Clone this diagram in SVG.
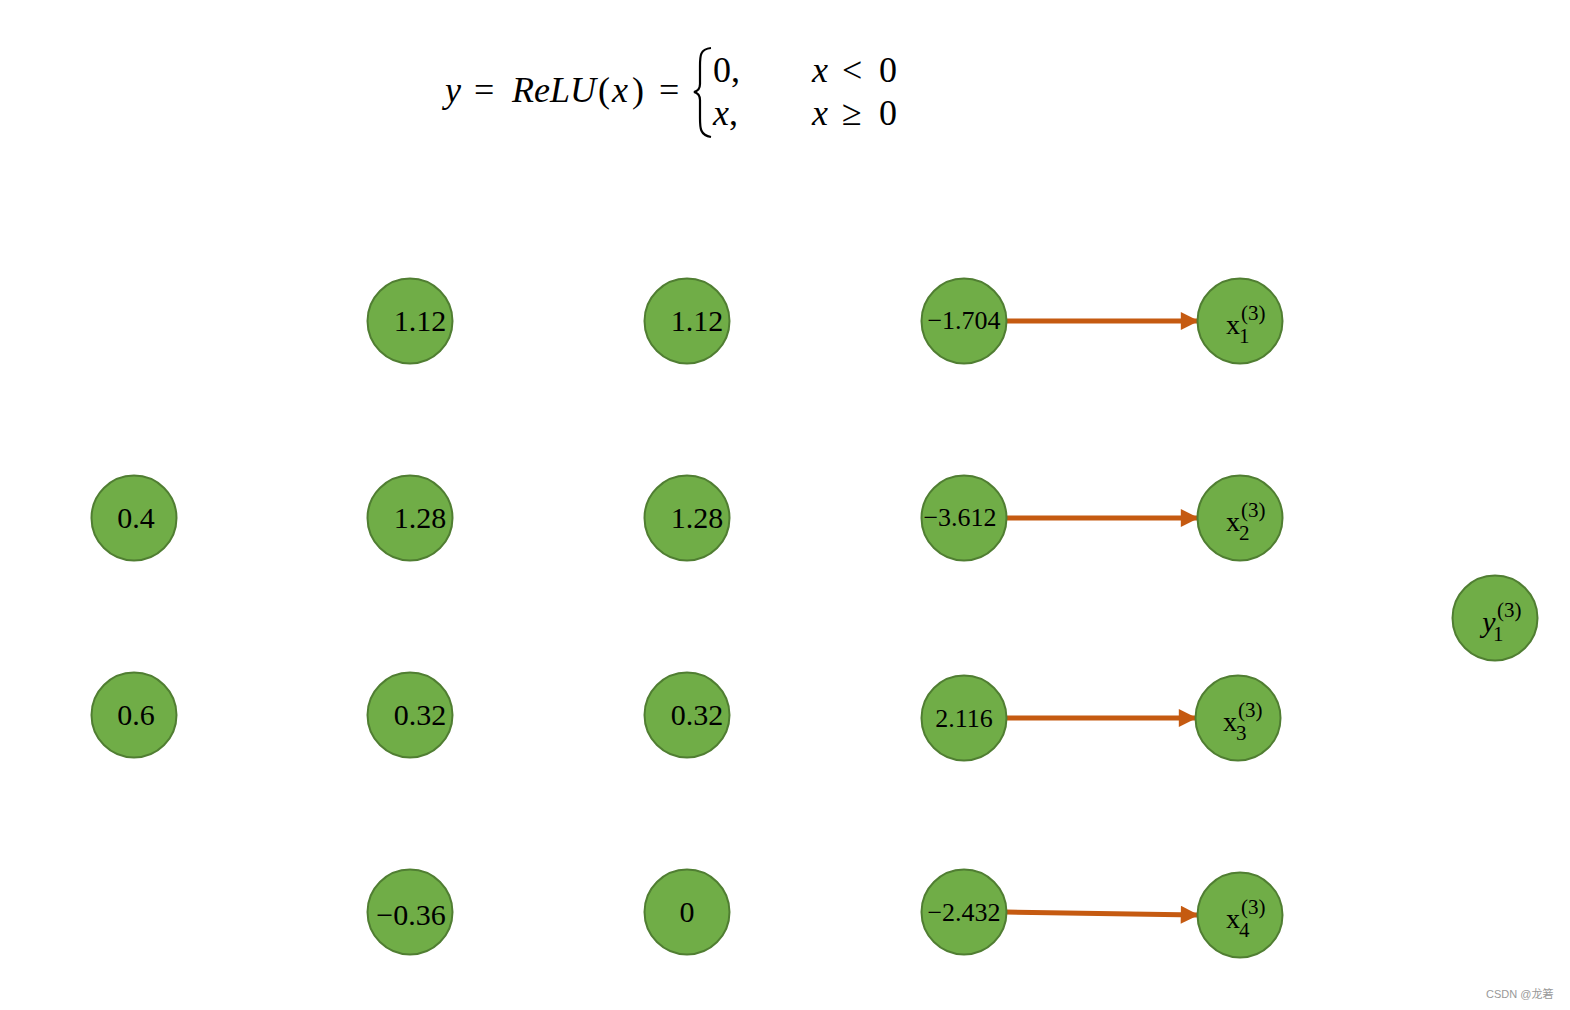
<svg xmlns="http://www.w3.org/2000/svg" width="1570" height="1010" viewBox="0 0 1570 1010">
<defs>
<style>
.n{fill:#70ad47;stroke:#507e32;stroke-width:2}
.t{font-family:"Liberation Serif","DejaVu Serif",serif;font-size:30px;fill:#000;text-anchor:middle}
.s{font-family:"Liberation Serif","DejaVu Serif",serif;font-size:21px;fill:#000}
.f{font-family:"Liberation Serif","DejaVu Serif",serif;font-size:36px;fill:#000}
.i{font-style:italic}
.c{stroke:#c55a11;stroke-width:5;fill:none}
.wm{font-family:"Liberation Sans","Noto Sans CJK SC",sans-serif;font-size:11px;fill:#999}
</style>
<marker id="ah" viewBox="0 0 10 10" refX="9" refY="5" markerWidth="3.8" markerHeight="3.6" orient="auto" markerUnits="strokeWidth">
<path d="M0,0 L10,5 L0,10 Z" fill="#c55a11"/>
</marker>
</defs>
<rect width="1570" height="1010" fill="#fff"/>

<g id="formula">
<text class="f i" x="445" y="102">y</text>
<text class="f" x="474" y="102">=</text>
<text class="f i" x="512" y="102">ReLU</text>
<text class="f" x="598" y="102">(</text>
<text class="f i" x="612" y="102">x</text>
<text class="f" x="632" y="102">)</text>
<text class="f" x="659" y="102">=</text>
<path d="M711,48 C700,49 700,56 700,66 L700,84 C700,89 698,91 694,92 C698,93 700,95 700,100 L700,118 C700,128 700,135 711,137" fill="none" stroke="#000" stroke-width="2.2"/>
<text class="f" x="713" y="82">0,</text>
<text class="f" x="713" y="125"><tspan class="i">x</tspan>,</text>
<text class="f i" x="812" y="82">x</text>
<text class="f" x="842" y="82">&lt;</text>
<text class="f" x="879" y="82">0</text>
<text class="f i" x="812" y="125">x</text>
<text class="f" x="842" y="125">≥</text>
<text class="f" x="879" y="125">0</text>
</g>

<g id="connectors">
<line class="c" x1="1006" y1="321" x2="1197" y2="321" marker-end="url(#ah)"/>
<line class="c" x1="1006" y1="518" x2="1197" y2="518" marker-end="url(#ah)"/>
<line class="c" x1="1006" y1="718" x2="1195" y2="718" marker-end="url(#ah)"/>
<line class="c" x1="1006" y1="912" x2="1197" y2="915" marker-end="url(#ah)"/>
</g>

<g id="n_in1"><circle class="n" cx="134" cy="518" r="42.5"/><text class="t" x="136" y="528">0.4</text></g>
<g id="n_in2"><circle class="n" cx="134" cy="715" r="42.5"/><text class="t" x="136" y="725">0.6</text></g>

<g id="n_h1_1"><circle class="n" cx="410" cy="321" r="42.5"/><text class="t" x="420" y="331">1.12</text></g>
<g id="n_h1_2"><circle class="n" cx="410" cy="518" r="42.5"/><text class="t" x="420" y="528">1.28</text></g>
<g id="n_h1_3"><circle class="n" cx="410" cy="715" r="42.5"/><text class="t" x="420" y="725">0.32</text></g>
<g id="n_h1_4"><circle class="n" cx="410" cy="912" r="42.5"/><text class="t" x="411" y="925">−0.36</text></g>

<g id="n_h2_1"><circle class="n" cx="687" cy="321" r="42.5"/><text class="t" x="697" y="331">1.12</text></g>
<g id="n_h2_2"><circle class="n" cx="687" cy="518" r="42.5"/><text class="t" x="697" y="528">1.28</text></g>
<g id="n_h2_3"><circle class="n" cx="687" cy="715" r="42.5"/><text class="t" x="697" y="725">0.32</text></g>
<g id="n_h2_4"><circle class="n" cx="687" cy="912" r="42.5"/><text class="t" x="687" y="922">0</text></g>

<g id="n_h3_1"><circle class="n" cx="964" cy="321" r="42.5"/><text class="t" x="964" y="329" style="font-size:26px">−1.704</text></g>
<g id="n_h3_2"><circle class="n" cx="964" cy="518" r="42.5"/><text class="t" x="960" y="526" style="font-size:26px">−3.612</text></g>
<g id="n_h3_3"><circle class="n" cx="964" cy="718" r="42.5"/><text class="t" x="964" y="727" style="font-size:26px">2.116</text></g>
<g id="n_h3_4"><circle class="n" cx="964" cy="912" r="42.5"/><text class="t" x="964" y="921" style="font-size:26px">−2.432</text></g>

<g id="n_x1"><circle class="n" cx="1240" cy="321" r="42.5"/><text class="t" x="1233" y="334" style="font-size:28px">x</text><text class="s" x="1239" y="343">1</text><text class="s" x="1241" y="320">(3)</text></g>
<g id="n_x2"><circle class="n" cx="1240" cy="518" r="42.5"/><text class="t" x="1233" y="531" style="font-size:28px">x</text><text class="s" x="1239" y="540">2</text><text class="s" x="1241" y="517">(3)</text></g>
<g id="n_x3"><circle class="n" cx="1238" cy="718" r="42.5"/><text class="t" x="1230" y="731" style="font-size:28px">x</text><text class="s" x="1236" y="740">3</text><text class="s" x="1238" y="717">(3)</text></g>
<g id="n_x4"><circle class="n" cx="1240" cy="915" r="42.5"/><text class="t" x="1233" y="928" style="font-size:28px">x</text><text class="s" x="1239" y="937">4</text><text class="s" x="1241" y="914">(3)</text></g>

<g id="n_y1"><circle class="n" cx="1495" cy="618" r="42.5"/><text class="t i" x="1489" y="632" style="font-size:30px">y</text><text class="s" x="1493" y="641">1</text><text class="s" x="1497" y="617">(3)</text></g>

<text class="wm" x="1486" y="998">CSDN @龙箬</text>
</svg>
